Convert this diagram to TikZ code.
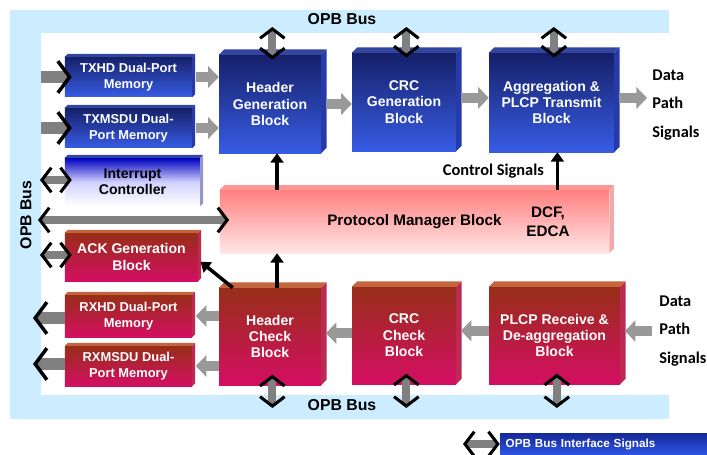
\documentclass[tikz,border=0pt]{standalone}
\usepackage{fontspec}
\setmainfont{Liberation Sans}
\newfontfamily\calib{Carlito}
\usepackage{tikz}
\usetikzlibrary{arrows.meta}
\definecolor{busblue}{RGB}{204,236,255}
\definecolor{navytop}{RGB}{22,32,105}
\definecolor{bluebot}{RGB}{55,92,228}
\definecolor{bluetf}{RGB}{50,70,160}
\definecolor{bluesf}{RGB}{38,58,170}
\definecolor{redtop}{RGB}{152,46,24}
\definecolor{redbot}{RGB}{212,14,98}
\definecolor{redtf}{RGB}{195,100,62}
\definecolor{redsf}{RGB}{188,42,84}
\definecolor{pmtop}{RGB}{255,128,128}
\definecolor{pmbot}{RGB}{255,230,230}
\definecolor{pmtf}{RGB}{255,150,150}
\definecolor{pmsf}{RGB}{240,170,170}
\definecolor{lavsf}{RGB}{150,150,200}
\definecolor{legtop}{RGB}{22,40,150}
\definecolor{legbot}{RGB}{45,85,230}
\tikzset{
blue block/.style={
  rectangle,
  inner sep=1pt,
  align=center,
  text=white,
  font=\bfseries\fontsize{12}{14}\selectfont,
  top color=navytop,
  bottom color=bluebot
},
red block/.style={blue block, top color=redtop, bottom color=redbot},
mem/.style={font=\bfseries\fontsize{11}{13.5}\selectfont},
bus label/.style={font=\bfseries\fontsize{13.5}{15}\selectfont, inner sep=1pt},
dp label/.style={font=\calib\bfseries\fontsize{14}{24}\selectfont, align=left, inner sep=1pt},
data/.style={draw=gray!80, line width=8pt, -{Triangle[length=9pt,width=18pt]}},
port/.style={draw=gray, line width=7pt,
  >={Straight Barb[length=8pt,width=21pt,color=black,line width=2.6pt]}, ->},
memport/.style={port, line width=10pt,
  >={Straight Barb[length=10pt,width=27pt,color=black,line width=3pt]}},
opb/.style={port, <->},
ctl/.style={line width=3pt, -{Triangle[length=8pt,width=11pt]}},
}

\begin{document}
\begin{tikzpicture}[x=0.03cm,y=-0.03cm]
\useasboundingbox (0,0) rectangle (707,455);
% the bus frame
\fill[busblue] (10,10) rectangle (669,419);
\fill[white] (41,33) rectangle (669,395);
\node[bus label] (opbT) at (342,19) {OPB Bus};
\node[bus label] (opbB) at (342,405) {OPB Bus};
\node[bus label, rotate=90] (opbL) at (26,215) {OPB Bus};

% transmit side
\node[blue block, mem, minimum width=3.81cm, minimum height=1.2cm] (txhd) at (128.5,77) {TXHD Dual-Port\\Memory};
\node[blue block, mem, minimum width=3.81cm, minimum height=1.2cm] (txmsdu) at (128.5,128) {TXMSDU Dual-\\Port Memory};
\node[blue block, text=black, top color=blue!75!black, bottom color=white, middle color=blue!18,
  minimum width=4.05cm, minimum height=1.44cm] (intc) at (132.5,182) {Interrupt\\Controller};
\node[blue block, minimum width=3.06cm, minimum height=2.94cm] (hg) at (270,104) {Header\\Generation\\Block};
\node[blue block, minimum width=3.12cm, minimum height=2.94cm] (crcg) at (404,102) {CRC\\Generation\\Block};
\node[blue block, minimum width=3.75cm, minimum height=2.97cm] (agg) at (551.5,102.5) {Aggregation \&\\PLCP Transmit\\Block};

% protocol manager
\node[blue block, text=black, top color=pmtop, bottom color=pmbot, font=\bfseries\fontsize{13}{15}\selectfont,
  minimum width=11.67cm, minimum height=1.89cm] (pm) at (414.5,221.5) {Protocol Manager Block};
\node[font=\bfseries\fontsize{13}{16}\selectfont, align=center, inner sep=1pt] (pmnote) at (548,222) {DCF,\\EDCA};

% receive side
\node[red block, minimum width=3.99cm, minimum height=1.44cm] (ack) at (131.5,257) {ACK Generation\\Block};
\node[red block, mem, minimum width=3.81cm, minimum height=1.26cm] (rxhd) at (128.5,316) {RXHD Dual-Port\\Memory};
\node[red block, mem, minimum width=3.81cm, minimum height=1.2cm] (rxmsdu) at (128.5,366) {RXMSDU Dual-\\Port Memory};
\node[red block, minimum width=3.06cm, minimum height=2.91cm] (hc) at (270,336.5) {Header\\Check\\Block};
\node[red block, minimum width=3.12cm, minimum height=2.91cm] (crcc) at (404,335.5) {CRC\\Check\\Block};
\node[red block, minimum width=3.93cm, minimum height=2.91cm] (plcpr) at (554.5,335.5) {PLCP Receive \&\\De-aggregation\\Block};

% the 3d faces
\foreach \n/\d/\tf/\sf in {txhd/2.5/bluetf/bluesf, txmsdu/2.5/bluetf/bluesf, intc/2.5/bluetf/lavsf,
  hg/4.5/bluetf/bluesf, crcg/4.5/bluetf/bluesf, agg/4.5/bluetf/bluesf, pm/4/pmtf/pmsf,
  ack/2.5/redtf/redsf, rxhd/2.5/redtf/redsf, rxmsdu/2.5/redtf/redsf,
  hc/4.5/redtf/redsf, crcc/4.5/redtf/redsf, plcpr/4.5/redtf/redsf}
{
  \fill[\tf] (\n.north west) -- ++(\d pt,\d pt) -- ([shift={(\d pt,\d pt)}]\n.north east) -- (\n.north east) -- cycle;
  \fill[\sf] (\n.north east) -- ++(\d pt,\d pt) -- ([shift={(\d pt,\d pt)}]\n.south east) -- (\n.south east) -- cycle;
}

% free ends
\coordinate (inA) at (41,77);
\coordinate (inB) at (41,128);
\coordinate (outA) at (33,318);
\coordinate (outB) at (33,364);
\coordinate (intL) at (40,180);
\coordinate (busL) at (38,220);
\coordinate (ackL) at (40,255);
\coordinate (txout) at (647,98);
\coordinate (rxin) at (652,331);
\coordinate (opbtop) at (0,27);
\coordinate (opbbot) at (0,408);

% data path
\draw[memport] (inA) -- ([xshift=6pt]txhd.west);
\draw[memport] (inB) -- ([xshift=6pt]txmsdu.west);
\draw[data, shorten <=3pt] (txhd.east) -- (txhd.east -| hg.west);
\draw[data, shorten <=3pt] (txmsdu.east) -- (txmsdu.east -| hg.west);
\draw[data, shorten <=4pt] (hg.east) -- (hg.east -| crcg.west);
\draw[data, shorten <=4pt] ([yshift=3.5pt]crcg.east) -- ([yshift=3.5pt]crcg.east -| agg.west);
\draw[data, shorten <=4pt] (agg.east |- txout) -- (txout);
\draw[data, shorten >=4pt] (rxin) -- (rxin -| plcpr.east);
\draw[data, shorten >=4pt] ([yshift=4pt]plcpr.west) -- ([yshift=4pt]plcpr.west -| crcc.east);
\draw[data, shorten >=4pt] ([yshift=2pt]crcc.west) -- ([yshift=2pt]crcc.west -| hc.east);
\draw[data, shorten >=3pt] (rxhd.east -| hc.west) -- (rxhd.east);
\draw[data, shorten >=3pt] (rxmsdu.east -| hc.west) -- (rxmsdu.east);
\draw[memport] (rxhd.west |- outA) -- (outA);
\draw[memport] (rxmsdu.west |- outB) -- (outB);

% the bus ports
\draw[opb] (intL) -- ([xshift=6pt]intc.west |- intL);
\draw[opb] (busL) -- ([xshift=8pt]pm.west |- busL);
\draw[opb] (ackL) -- ([xshift=6pt]ack.west |- ackL);
\foreach \n in {hg,crcg,agg}
  \draw[opb] ([xshift=2pt]\n.north |- opbtop) -- ([xshift=2pt,yshift=-4pt]\n.north);
\foreach \n in {hc,crcc,plcpr}
  \draw[opb] ([xshift=2pt]\n.south |- opbbot) -- ([xshift=2pt,yshift=9pt]\n.south);

% control signals
\draw[ctl] ([xshift=12pt]hc.north west) -- ([xshift=2pt,yshift=-4pt]ack.east);
\draw[ctl] ([xshift=6pt]hc.north) -- ([xshift=6pt]hc.north |- pm.south);
\draw[ctl] ([xshift=6pt]hg.south |- pm.north) -- ([xshift=6pt]hg.south);
\draw[ctl] ([xshift=5pt]agg.south |- pm.north) -- node[left=9pt, dp label] (ctltxt) {Control Signals} ([xshift=5pt]agg.south);

% data path signals
\node[dp label, anchor=west] (dptx) at (651,105) {Data\\Path\\Signals};
\node[dp label, anchor=west] (dprx) at (658,331) {Data\\Path\\Signals};

% legend
\node[blue block, top color=legtop, bottom color=legbot, font=\bfseries\fontsize{10}{12}\selectfont,
  minimum width=6.24cm, minimum height=0.66cm, text width=5.9cm, align=left] (leg) at (604,444) {OPB Bus Interface Signals};
\coordinate (legL) at (463,444);
\draw[opb] (legL) -- (leg.west);
\end{tikzpicture}
\end{document}
